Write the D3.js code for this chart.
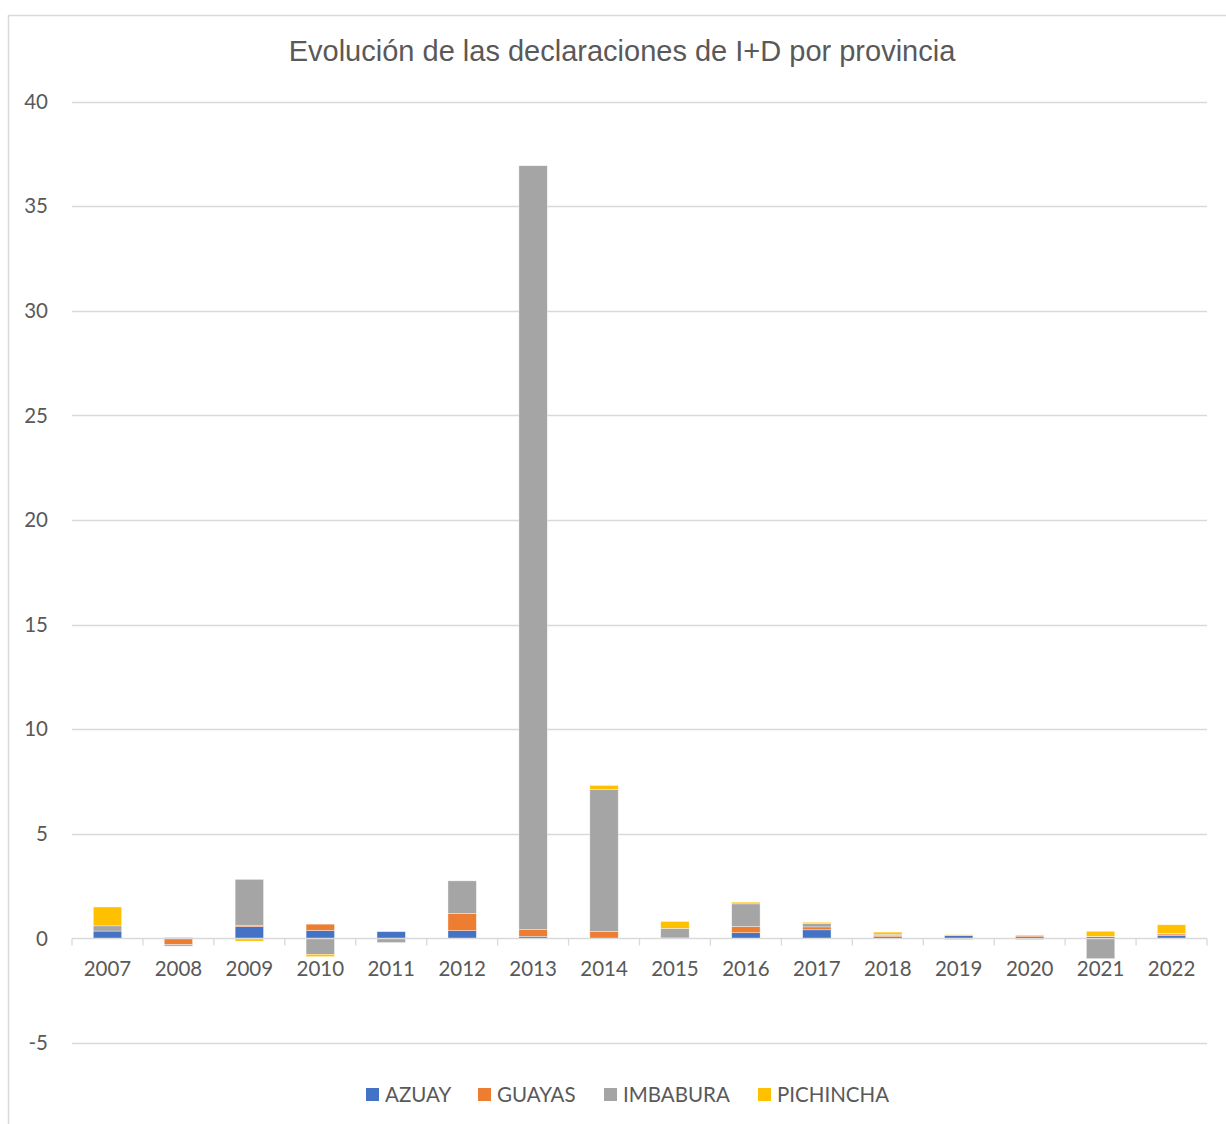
<!DOCTYPE html>
<html>
<head>
<meta charset="utf-8">
<script src="https://cdn.jsdelivr.net/npm/d3@7"></script>
<style>
  html, body { margin: 0; padding: 0; background: #fff; }
  svg { display: block; }
</style>
</head>
<body>
<svg id="chart" width="1226" height="1124"></svg>
<script>
// Años y provincias
const years = ["2007","2008","2009","2010","2011","2012","2013","2014","2015","2016","2017","2018","2019","2020","2021","2022"];
const provinces = ["AZUAY","GUAYAS","IMBABURA","PICHINCHA"];
const colors = ["#4472C4","#ED7D31","#A5A5A5","#FFC000"];

// Valores por provincia (variación de declaraciones de I+D)
const azuay     = [0.35, 0.00, 0.56, 0.38, 0.32, 0.37, 0.10, 0.00, 0.00, 0.27, 0.41, 0.08, 0.13, 0.08, 0.08, 0.13];
const guayas    = [0.00,-0.30, 0.07, 0.30, 0.00, 0.83, 0.32, 0.33, 0.02, 0.30, 0.14, 0.06,-0.05, 0.06, 0.02, 0.08];
const imbabura  = [0.25,-0.07, 2.19,-0.76,-0.20, 1.55,36.51, 6.79, 0.46, 1.08, 0.17, 0.06, 0.03,-0.03,-0.97, 0.03];
const pichincha = [0.90, 0.05,-0.13,-0.11, 0.03, 0.00, 0.00, 0.19, 0.33, 0.08, 0.05, 0.10, 0.02,-0.04, 0.24, 0.41];

const yTicks = [-5, 0, 5, 10, 15, 20, 25, 30, 35, 40];

const series = [azuay, guayas, imbabura, pichincha];
const table = years.map((y, i) => {
  const row = { year: y };
  provinces.forEach((p, k) => { row[p] = series[k][i]; });
  return row;
});

const svg = d3.select("#chart");
const W = 1226, H = 1124;
const plot = { left: 72, right: 1207, top: 101.5, bottom: 1043 };
const axisFont = "Lato, 'Open Sans', sans-serif";
const axisSize = 20.5;

// Marco del gráfico
svg.append("rect")
  .attr("x", 8.5).attr("y", 15.5)
  .attr("width", W + 20).attr("height", H + 20)
  .attr("fill", "#fff").attr("stroke", "#D9D9D9").attr("stroke-width", 1.5);

const x = d3.scaleBand().domain(years).range([plot.left, plot.right]).paddingInner(0.6).paddingOuter(0.3);
const y = d3.scaleLinear().domain([-5, 40]).range([plot.bottom, plot.top]);

// Líneas de cuadrícula
svg.append("g")
  .selectAll("line").data(yTicks.filter(t => t !== 0)).join("line")
  .attr("x1", plot.left).attr("x2", plot.right)
  .attr("y1", d => Math.round(y(d)) + 0.5).attr("y2", d => Math.round(y(d)) + 0.5)
  .attr("stroke", "#D9D9D9").attr("stroke-width", 1.3);

// Etiquetas del eje Y
svg.append("g")
  .selectAll("text").data(yTicks).join("text")
  .attr("x", 48).attr("y", d => y(d))
  .attr("dy", "0.35em").attr("text-anchor", "end")
  .attr("font-family", axisFont).attr("font-size", axisSize)
  .attr("fill", "#595959").text(d => d);

// Barras apiladas (positivos y negativos por separado)
const stack = d3.stack().keys(provinces).offset(d3.stackOffsetDiverging);
const stacked = stack(table);

svg.append("g")
  .selectAll("g").data(stacked).join("g")
  .attr("fill", (d, i) => colors[i])
  .selectAll("rect").data(d => d.map(v => ({ v, year: v.data.year }))).join("rect")
  .attr("x", d => x(d.year))
  .attr("width", x.bandwidth())
  .attr("y", d => y(Math.max(d.v[0], d.v[1])))
  .attr("height", d => Math.abs(y(d.v[0]) - y(d.v[1])))
  .attr("stroke", "#fff").attr("stroke-width", 0.6).attr("stroke-opacity", 0.6);

// Eje X en cero
const xAxis = svg.append("g");
const y0 = Math.round(y(0)) + 0.5;
xAxis.append("line")
  .attr("x1", plot.left).attr("x2", plot.right)
  .attr("y1", y0).attr("y2", y0)
  .attr("stroke", "#D9D9D9").attr("stroke-width", 1.3);
const tickPos = d3.range(years.length + 1).map(i => plot.left + i * (plot.right - plot.left) / years.length);
xAxis.selectAll("line.tick").data(tickPos).join("line")
  .attr("class", "tick")
  .attr("x1", d => d).attr("x2", d => d)
  .attr("y1", y0).attr("y2", y0 + 7)
  .attr("stroke", "#D9D9D9").attr("stroke-width", 1.3);
xAxis.selectAll("text").data(years).join("text")
  .attr("x", d => x(d) + x.bandwidth() / 2)
  .attr("y", y0 + 37)
  .attr("text-anchor", "middle")
  .attr("font-family", axisFont).attr("font-size", axisSize)
  .attr("fill", "#595959").text(d => d);

// Título
svg.append("text")
  .attr("x", 622).attr("y", 61)
  .attr("text-anchor", "middle")
  .attr("font-family", "'Liberation Sans', Arial, sans-serif").attr("font-size", 29)
  .attr("fill", "#595959")
  .text("Evolución de las declaraciones de I+D por provincia");

// Leyenda
const legendX = [366, 478, 604, 758];
const legend = svg.append("g");
provinces.forEach((p, i) => {
  legend.append("rect")
    .attr("x", legendX[i]).attr("y", 1088).attr("width", 13).attr("height", 13)
    .attr("fill", colors[i]);
  legend.append("text")
    .attr("x", legendX[i] + 19).attr("y", 1101.5)
    .attr("font-family", axisFont).attr("font-size", axisSize)
    .attr("fill", "#595959").text(p);
});
</script>
</body>
</html>
